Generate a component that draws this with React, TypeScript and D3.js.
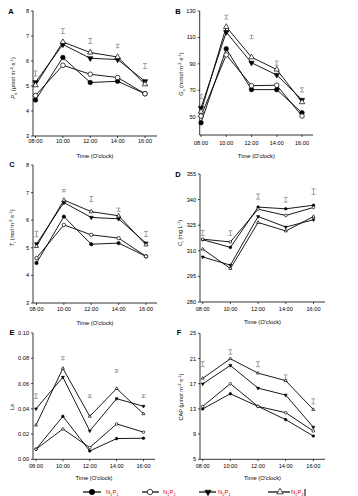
import React from "react";
import * as d3 from "d3";

// ---------- DATA ----------
const hours = [8, 10, 12, 14, 16];
const timeLabels = ["08:00", "10:00", "12:00", "14:00", "16:00"];
const seriesNames = [["N", "1", "P", "1"], ["N", "1", "P", "2"], ["N", "2", "P", "1"], ["N", "2", "P", "2"]];

// A: Pn
const pnN1P1 = [4.44, 6.14, 5.14, 5.19, 4.69];
const pnN1P2 = [4.62, 5.83, 5.47, 5.34, 4.69];
const pnN2P1 = [5.15, 6.66, 6.11, 6.06, 5.19];
const pnN2P2 = [5.03, 6.76, 6.34, 6.16, 5.07];
const pnErrMid = [5.5, 7.2, 6.8, 6.6, 5.8];
const pnErrHalf = [0.1, 0.1, 0.1, 0.07, 0.1];
const pnTicks = [3, 4, 5, 6, 7, 8];

// B: Gs
const gsN1P1 = [45.4, 101.4, 70.5, 70.5, 53];
const gsN1P2 = [50.5, 96.8, 73.5, 73.8, 50.5];
const gsN2P1 = [56.6, 114, 90.8, 81.6, 62.7];
const gsN2P2 = [53.8, 118, 95, 85.7, 61];
const gsErrMid = [65.2, 125.4, 110.3, 90.5, 70.3];
const gsErrHalf = [1.5, 1.5, 1.3, 1.6, 1.6];
const gsTicks = [50, 70, 90, 110, 130];

// C: Tr
const trN1P1 = [4.45, 6.13, 5.13, 5.17, 4.69];
const trN1P2 = [4.63, 5.83, 5.47, 5.35, 4.69];
const trN2P1 = [5.14, 6.64, 6.1, 6.05, 5.17];
const trN2P2 = [5.05, 6.73, 6.31, 6.16, 5.11];
const trErrMid = [5.5, 7.07, 6.77, 6.38, 5.5];
const trErrHalf = [0.1, 0.04, 0.09, 0.06, 0.09];
const trTicks = [3, 4, 5, 6, 7, 8];

// D: Ci
const ciN1P1 = [316.5, 312, 335.6, 334.6, 336.7];
const ciN1P2 = [316.8, 315.2, 334.4, 330.7, 335.4];
const ciN2P1 = [306.4, 301.6, 330.1, 323.9, 328.2];
const ciN2P2 = [311, 299.6, 326.6, 321.6, 330.1];
const ciErrMid = [320.4, 320.4, 341.8, 339.9, 344.7];
const ciErrHalf = [1.5, 1.4, 1.5, 1.4, 1.6];
const ciTicks = [280, 295, 310, 325, 340, 355];

// E: Ls
const lsN1P1 = [0.008, 0.034, 0.0066, 0.0164, 0.0167];
const lsN1P2 = [0.008, 0.024, 0.0093, 0.028, 0.0215];
const lsN2P1 = [0.04, 0.065, 0.0225, 0.048, 0.042];
const lsN2P2 = [0.027, 0.072, 0.034, 0.056, 0.036];
const lsErrMid = [0.05, 0.08, 0.05, 0.07, 0.05];
const lsErrHalf = [0.0018, 0.0012, 0.001, 0.001, 0.001];
const lsTicks = [0, 0.02, 0.04, 0.06, 0.08, 0.1];

// F: CAP
const capN1P1 = [13.0, 15.4, 13.4, 11.3, 8.7];
const capN1P2 = [13.4, 17.0, 13.4, 12.4, 9.5];
const capN2P1 = [16.97, 19.9, 16.3, 15.2, 10.1];
const capN2P2 = [17.85, 20.96, 18.68, 17.49, 12.9];
const capErrMid = [20.1, 22.05, 20.1, 18.0, 14.2];
const capErrHalf = [0.4, 0.35, 0.4, 0.4, 0.4];
const capTicks = [5, 9, 13, 17, 21, 25];

// ---------- STYLE ----------
const FONT = "'Liberation Sans', Arial, Helvetica, sans-serif";
const ERR = "#8c8c8c";

type Cfg = {
  letter: string;
  letterX: number;
  letterY: number;
  yTitle: React.ReactNode;
  yTitleX: number;
  yTitleY: number;
  axisX: number;
  x8: number;
  x16: number;
  xEnd: number;
  yTop: number;
  yBot: number;
  vTop: number;
  vBot: number;
  axisBot: number;
  ticks: number[];
  fmt: (v: number) => string;
  series: number[][];
  errMid: number[];
  errHalf: number[];
  r: number;
  labelY: number;
  titleY: number;
};

function Marker({ kind, x, y, r }: { kind: number; x: number; y: number; r: number }) {
  if (kind === 0) return <circle cx={x} cy={y} r={r} fill="#000" stroke="#000" strokeWidth={0.6} />;
  if (kind === 1) return <circle cx={x} cy={y} r={r} fill="#fff" stroke="#000" strokeWidth={0.7} />;
  const area = r * r * 2.4;
  const p = d3.symbol().type(d3.symbolTriangle).size(area)() as string;
  if (kind === 2)
    return <path d={p} transform={`translate(${x},${y}) rotate(180)`} fill="#000" stroke="#000" strokeWidth={0.6} />;
  return <path d={p} transform={`translate(${x},${y})`} fill="#fff" stroke="#000" strokeWidth={0.7} />;
}

function Panel({ c }: { c: Cfg }) {
  const x = d3.scaleLinear().domain([8, 16]).range([c.x8, c.x16]);
  const y = d3.scaleLinear().domain([c.vBot, c.vTop]).range([c.yBot, c.yTop]);
  const line = d3
    .line<number>()
    .x((_, i) => x(hours[i]))
    .y((v) => y(v));
  return (
    <g fontFamily={FONT} fill="#000">
      <text x={c.letterX} y={c.letterY} fontSize={7.5} fontWeight="bold" textAnchor="middle" dominantBaseline="middle">
        {c.letter}
      </text>
      {/* axes */}
      <line x1={c.axisX} x2={c.axisX} y1={c.yTop} y2={c.axisBot} stroke="#000" strokeWidth={0.8} />
      <line x1={c.axisX} x2={c.xEnd} y1={c.axisBot} y2={c.axisBot} stroke="#000" strokeWidth={0.8} />
      {c.ticks.map((t) => (
        <g key={t}>
          <line x1={c.axisX - 2} x2={c.axisX} y1={y(t)} y2={y(t)} stroke="#000" strokeWidth={0.7} />
          <text x={c.axisX - 4} y={y(t)} fontSize={5.6} textAnchor="end" dominantBaseline="central">
            {c.fmt(t)}
          </text>
        </g>
      ))}
      {hours.map((h, i) => (
        <g key={h}>
          <line x1={x(h)} x2={x(h)} y1={c.axisBot} y2={c.axisBot + 2} stroke="#000" strokeWidth={0.7} />
          <text x={x(h)} y={c.labelY} fontSize={5.6} textAnchor="middle" dominantBaseline="central">
            {timeLabels[i]}
          </text>
        </g>
      ))}
      <text x={(c.axisX + c.xEnd) / 2} y={c.titleY} fontSize={5.8} textAnchor="middle" dominantBaseline="central">
        Time (O'clock)
      </text>
      <text
        transform={`translate(${c.yTitleX},${c.yTitleY}) rotate(-90)`}
        fontSize={5.6}
        textAnchor="middle"
        dominantBaseline="central"
      >
        {c.yTitle}
      </text>
      {/* error bars */}
      {hours.map((h, i) => {
        const cx = x(h);
        const y1 = y(c.errMid[i] - c.errHalf[i]);
        const y2 = y(c.errMid[i] + c.errHalf[i]);
        return (
          <g key={"e" + h} stroke={ERR} strokeWidth={0.8}>
            <line x1={cx} x2={cx} y1={y1} y2={y2} />
            <line x1={cx - 2} x2={cx + 2} y1={y1} y2={y1} />
            <line x1={cx - 2} x2={cx + 2} y1={y2} y2={y2} />
          </g>
        );
      })}
      {/* series */}
      {c.series.map((s, k) => (
        <path key={"l" + k} d={line(s) as string} fill="none" stroke="#000" strokeWidth={0.9} />
      ))}
      {c.series.map((s, k) =>
        s.map((v, i) => <Marker key={`m${k}-${i}`} kind={k} x={x(hours[i])} y={y(v)} r={c.r} />)
      )}
    </g>
  );
}

const unitSup = (pre: string) => (
  <>
    {pre}
    <tspan fontSize={4} dy={-2}>-2</tspan>
    <tspan dy={2}>·s</tspan>
    <tspan fontSize={4} dy={-2}>-1</tspan>
    <tspan dy={2}>)</tspan>
  </>
);

const panels: Cfg[] = [
  {
    letter: "A", letterX: 11, letterY: 12,
    yTitle: (<><tspan fontStyle="italic">P</tspan><tspan fontSize={4} dy={1.5}>n</tspan><tspan dy={-1.5}>{" "}</tspan>{unitSup("(μmol m")}</>),
    yTitleX: 13, yTitleY: 78,
    axisX: 33, x8: 35.5, x16: 145, xEnd: 157, yTop: 11, yBot: 136, vTop: 8, vBot: 3, axisBot: 136,
    ticks: pnTicks, fmt: (v) => String(v),
    series: [pnN1P1, pnN1P2, pnN2P1, pnN2P2], errMid: pnErrMid, errHalf: pnErrHalf, r: 2.3,
    labelY: 141, titleY: 156,
  },
  {
    letter: "B", letterX: 178, letterY: 12,
    yTitle: (<><tspan fontStyle="italic">G</tspan><tspan fontSize={4} dy={1.5}>s</tspan><tspan dy={-1.5}>{" "}</tspan>{unitSup("(mmol m")}</>),
    yTitleX: 181, yTitleY: 74,
    axisX: 199.7, x8: 201, x16: 302, xEnd: 313, yTop: 11, yBot: 116.7, vTop: 130, vBot: 50, axisBot: 135,
    ticks: gsTicks, fmt: (v) => String(v),
    series: [gsN1P1, gsN1P2, gsN2P1, gsN2P2], errMid: gsErrMid, errHalf: gsErrHalf, r: 2.3,
    labelY: 142.5, titleY: 156,
  },
  {
    letter: "C", letterX: 12, letterY: 165,
    yTitle: (<><tspan fontStyle="italic">T</tspan><tspan fontSize={4} dy={1.5}>r</tspan><tspan dy={-1.5}>{" "}</tspan>{unitSup("(mol m")}</>),
    yTitleX: 12, yTitleY: 228,
    axisX: 33, x8: 36.5, x16: 146, xEnd: 157, yTop: 165, yBot: 303, vTop: 8, vBot: 3, axisBot: 303,
    ticks: trTicks, fmt: (v) => String(v),
    series: [trN1P1, trN1P2, trN2P1, trN2P2], errMid: trErrMid, errHalf: trErrHalf, r: 1.7,
    labelY: 309, titleY: 322.7,
  },
  {
    letter: "D", letterX: 178, letterY: 175,
    yTitle: (<><tspan fontStyle="italic">C</tspan><tspan fontSize={4} dy={1.5}>i</tspan><tspan dy={-1.5}>{" (mg L"}</tspan><tspan fontSize={4} dy={-2}>-1</tspan><tspan dy={2}>)</tspan></>),
    yTitleX: 180, yTitleY: 233,
    axisX: 200, x8: 202.7, x16: 313.5, xEnd: 325, yTop: 174, yBot: 302, vTop: 355, vBot: 280, axisBot: 302,
    ticks: ciTicks, fmt: (v) => String(v),
    series: [ciN1P1, ciN1P2, ciN2P1, ciN2P2], errMid: ciErrMid, errHalf: ciErrHalf, r: 1.3,
    labelY: 308.5, titleY: 322,
  },
  {
    letter: "E", letterX: 12, letterY: 333,
    yTitle: "Ls",
    yTitleX: 12, yTitleY: 407,
    axisX: 33, x8: 36, x16: 143.5, xEnd: 155, yTop: 333, yBot: 459.3, vTop: 0.1, vBot: 0, axisBot: 459.3,
    ticks: lsTicks, fmt: (v) => v.toFixed(2),
    series: [lsN1P1, lsN1P2, lsN2P1, lsN2P2], errMid: lsErrMid, errHalf: lsErrHalf, r: 1.3,
    labelY: 466, titleY: 478,
  },
  {
    letter: "F", letterX: 179, letterY: 333,
    yTitle: unitSup("CAP (μmol m"),
    yTitleX: 181, yTitleY: 397,
    axisX: 200, x8: 202.7, x16: 313.3, xEnd: 325, yTop: 333.3, yBot: 459.3, vTop: 25, vBot: 5, axisBot: 459.3,
    ticks: capTicks, fmt: (v) => String(v),
    series: [capN1P1, capN1P2, capN2P1, capN2P2], errMid: capErrMid, errHalf: capErrHalf, r: 1.3,
    labelY: 466, titleY: 478,
  },
];

const legendItems = [
  { x1: 83, x2: 101, mx: 92, tx: 106 },
  { x1: 142, x2: 159, mx: 150, tx: 163 },
  { x1: 199, x2: 216, mx: 208, tx: 218 },
  { x1: 268, x2: 290, mx: 280, tx: 291 },
];

export default function App() {
  const ly = 492;
  return (
    <svg width={358} height={496} style={{ position: "absolute", left: 0, top: 0, background: "#fff" }}>
      <rect width={358} height={496} fill="#fff" />
      {panels.map((p) => (
        <Panel key={p.letter} c={p} />
      ))}
      <g fontFamily={FONT}>
        {legendItems.map((it, k) => (
          <g key={k}>
            <line x1={it.x1} x2={it.x2} y1={ly} y2={ly} stroke="#000" strokeWidth={1.2} />
            <Marker kind={k} x={it.mx} y={ly} r={2.7} />
            <text x={it.tx} y={ly} fontSize={6} fill="#e00000" dominantBaseline="central">
              {seriesNames[k][0]}
              <tspan fontSize={4} dy={1.5}>{seriesNames[k][1]}</tspan>
              <tspan dy={-1.5}>{seriesNames[k][2]}</tspan>
              <tspan fontSize={4} dy={1.5}>{seriesNames[k][3]}</tspan>
            </text>
          </g>
        ))}
        <line x1={305} x2={305} y1={489} y2={496} stroke="#000" strokeWidth={1} />
      </g>
    </svg>
  );
}
